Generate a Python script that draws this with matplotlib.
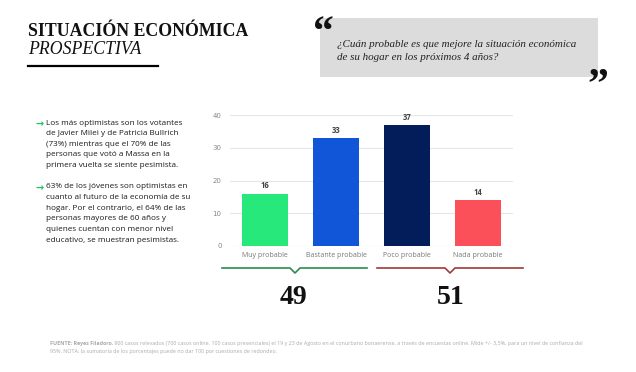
import matplotlib.pyplot as plt
from matplotlib.patches import Rectangle
from matplotlib.lines import Line2D

categorias = ["Muy probable", "Bastante probable", "Poco probable", "Nada probable"]
valores = [16, 33, 37, 14]
colores = ["#27e87a", "#1156d9", "#021d5a", "#fb4f5a"]
total_optimistas = 49
total_pesimistas = 51

titulo = "SITUACIÓN ECONÓMICA"
subtitulo = "PROSPECTIVA"
pregunta = "¿Cuán probable es que mejore la situación económica\nde su hogar en los próximos 4 años?"
parrafo1 = ("Los más optimistas son los votantes\nde Javier Milei y de Patricia Bullrich\n"
            "(73%) mientras que el 70% de las\npersonas que votó a Massa en la\n"
            "primera vuelta se siente pesimista.")
parrafo2 = ("63% de los jóvenes son optimistas en\ncuanto al futuro de la economía de su\n"
            "hogar. Por el contrario, el 64% de las\npersonas mayores de 60 años y\n"
            "quienes cuentan con menor nivel\neducativo, se muestran pesimistas.")
fuente_neg = "FUENTE: Reyes Filadoro."
fuente = (" 800 casos relevados (700 casos online. 100 casos presenciales) el 19 y 23 de Agosto en el "
          "conurbano bonaerense, a través de encuestas online. Mide +/- 3,5%, para un nivel de confianza del")
nota = "95%. NOTA: la sumatoria de los porcentajes puede no dar 100 por cuestiones de redondeo."

W, H = 636, 372
fig = plt.figure(figsize=(W / 100, H / 100), dpi=100)
fig.patch.set_facecolor("white")


def fx(px):
    return px / W


def fy(py):
    return 1 - py / H


# grafico de barras
ax = fig.add_axes([fx(230), fy(246), fx(513) - fx(230), fy(115) - fy(246)])
x = range(len(categorias))
bars = ax.bar(x, valores, width=0.65, color=colores, zorder=3)
for b, v in zip(bars, valores):
    ax.text(b.get_x() + b.get_width() / 2, v + 1.0, str(v), ha="center", va="bottom",
            fontsize=5.5, fontweight="bold", color="#444444", family="Open Sans")
ax.set_xlim(-0.5, 3.5)
ax.set_ylim(0, 40)
ax.set_yticks([0, 10, 20, 30, 40])
ax.set_xticks(list(x))
ax.set_xticklabels(categorias, fontsize=5, color="#777777", family="Open Sans")
ax.tick_params(axis="y", labelsize=5, labelcolor="#888888", length=0, pad=6)
ax.tick_params(axis="x", length=0, pad=4)
ax.grid(axis="y", color="#e6e6e6", linewidth=0.8, zorder=0)
for s in ax.spines.values():
    s.set_visible(False)
ax.axhline(0, color="#dddddd", linewidth=0.8, zorder=2)

# titulo
fig.text(fx(28), fy(31), titulo, fontsize=12.8, fontweight="bold", family="Liberation Serif",
         va="center", color="#111111")
fig.text(fx(28), fy(50), subtitulo, fontsize=12.8, style="italic", family="Liberation Serif",
         va="center", color="#111111")
fig.add_artist(Line2D([fx(28), fx(158)], [fy(66), fy(66)], color="black", linewidth=1.6))

# caja de pregunta
fig.add_artist(Rectangle((fx(320), fy(77)), fx(598) - fx(320), fy(18) - fy(77),
                         facecolor="#dcdcdc", edgecolor="none"))
fig.text(fx(337), fy(51), pregunta, fontsize=7.9, style="italic", family="Liberation Serif",
         va="center", color="#222222", linespacing=1.45)
fig.text(fx(313), fy(34), "\u201c", fontsize=30, fontweight="bold", family="Liberation Serif",
         va="center", color="#111111")
fig.text(fx(587), fy(86), "\u201d", fontsize=30, fontweight="bold", family="Liberation Serif",
         va="center", color="#111111")

# texto lateral
for ycen, txt in [(124, parrafo1), (188, parrafo2)]:
    fig.text(fx(36), fy(ycen), "\u2192", fontsize=7, color="#1fc15a", va="center",
             family="DejaVu Sans", fontweight="bold")
    fig.text(fx(46), fy(ycen - 4.5), txt, fontsize=5.9, color="#1a1a1a", va="top",
             family="Open Sans", linespacing=1.72)

# llaves
def llave(x0, x1, xm, color):
    fig.add_artist(Line2D([fx(x0), fx(xm - 5), fx(xm), fx(xm + 5), fx(x1)],
                          [fy(268), fy(268), fy(273), fy(268), fy(268)],
                          color=color, linewidth=1.2))


llave(222, 367, 295, "#2e8b4a")
llave(377, 523, 450, "#a33a3a")
fig.text(fx(294), fy(298), str(total_optimistas), fontsize=20, fontweight="bold",
         family="Liberation Serif", ha="center", va="center", color="#111111")
fig.text(fx(451), fy(297), str(total_pesimistas), fontsize=20, fontweight="bold",
         family="Liberation Serif", ha="center", va="center", color="#111111")

# fuente
t = fig.text(fx(50), fy(343), fuente_neg, fontsize=3.85, fontweight="bold", color="#aaaaaa",
             va="center", family="Open Sans")
fig.canvas.draw()
bb = t.get_window_extent()
fig.text(bb.x1 / W, fy(343), fuente, fontsize=3.85, color="#aaaaaa", va="center", family="Open Sans")
fig.text(fx(50), fy(351.5), nota, fontsize=3.85, color="#aaaaaa", va="center", family="Open Sans")

fig.savefig("out.png", dpi=100)
